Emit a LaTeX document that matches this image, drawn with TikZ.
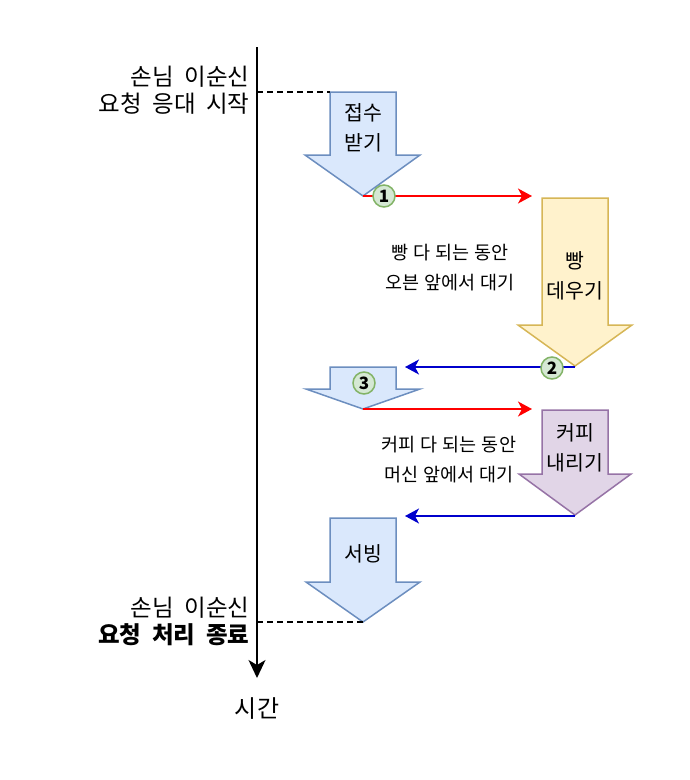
\documentclass[tikz,border=0pt]{standalone}
\usepackage{fontspec}
\setmainfont{Noto Sans CJK KR}[WordSpace=2]
\newfontfamily\tightkr{Noto Sans CJK KR}[WordSpace=1.2]
\usepackage{xcolor}
\usepackage{tikz}
\usetikzlibrary{arrows.meta, positioning, calc}
\definecolor{dioblue}{HTML}{DAE8FC}
\definecolor{dioblueline}{HTML}{6C8EBF}
\definecolor{dioyellow}{HTML}{FFF2CC}
\definecolor{dioyellowline}{HTML}{D6B656}
\definecolor{diopurple}{HTML}{E1D5E7}
\definecolor{diopurpleline}{HTML}{9673A6}
\definecolor{diogreen}{HTML}{D5E8D4}
\definecolor{diogreenline}{HTML}{82B366}
\definecolor{diored}{HTML}{FF0000}
\definecolor{dionavy}{HTML}{0000CC}

\tikzset{
  blockarrow/.style={line width=1.5pt, line join=miter},
  steplabel/.style={align=center, font=\tightkr\fontsize{20.5}{30}\selectfont},
  waitlabel/.style={align=center, font=\tightkr\fontsize{18.5}{30}\selectfont},
  sidelabel/.style={align=right, anchor=east, font=\fontsize{23.5}{27}\selectfont},
  numdot/.style={circle, draw=diogreenline, fill=diogreen, line width=1.5pt, inner sep=0pt,
    minimum size=22pt, font=\fontsize{17}{17}\selectfont\bfseries},
  handoff/.style={line width=1.5pt, -{Stealth[length=14pt,width=15pt,inset=4pt]}},
}

\begin{document}
\begin{tikzpicture}[x=1pt, y=-1pt]
\useasboundingbox (0,0) rectangle (689,780);
% Timeline
\coordinate (tltop) at (257,47);
\coordinate (tlend) at (257,678);
\draw[line width=1.5pt, -{Stealth[length=18pt,width=17pt,inset=5pt]}] (tltop) -- (tlend);
\node[font=\fontsize{24}{24}\selectfont] (timelabel) at (257,709) {시간};
% Start and end marks
\coordinate (startmark) at (257,92);
\coordinate (endmark) at (257,622);
\node[sidelabel] (startlabel) at (253,90) {손님 이순신\\요청 응대 시작};
\node[sidelabel] (endlabel) at (253,621) {손님 이순신\\\textbf{요청 처리 종료}};
% Block arrows
\draw[blockarrow, draw=dioblueline, fill=dioblue]
  (330,92) -- (396,92) -- (396,155) -- (420,155) -- (363,196) -- (305,155) -- (330,155) -- cycle;
\coordinate (recvtip) at (363,196);
\coordinate (recvtop) at (330,92);
\node[steplabel] (recv) at (363,128) {접수\\받기};

\draw[blockarrow, draw=dioyellowline, fill=dioyellow]
  (542,198) -- (608,198) -- (608,325) -- (632,325) -- (575,366) -- (518,325) -- (542,325) -- cycle;
\coordinate (breadtip) at (575,367);
\node[steplabel] (bread) at (575,276) {빵\\데우기};

\draw[blockarrow, draw=dioblueline, fill=dioblue]
  (330,367) -- (396,367) -- (396,389) -- (420,389) -- (363,409) -- (306,389) -- (330,389) -- cycle;
\coordinate (picktip) at (363,409);

\draw[blockarrow, draw=diopurpleline, fill=diopurple]
  (542,410) -- (608,410) -- (608,474) -- (631,474) -- (575,515) -- (519,474) -- (542,474) -- cycle;
\coordinate (coffeetip) at (575,516);
\node[steplabel] (coffee) at (575,448) {커피\\내리기};

\draw[blockarrow, draw=dioblueline, fill=dioblue]
  (330,518) -- (396,518) -- (396,582) -- (420,582) -- (363,622) -- (306,582) -- (330,582) -- cycle;
\coordinate (servetip) at (363,622);
\node[steplabel] (serve) at (363,554) {서빙};
% Dashed marks
\draw[line width=1.5pt, dash pattern=on 6pt off 4pt] (startmark) -- (recvtop);
\draw[line width=1.5pt, dash pattern=on 6pt off 4pt] (endmark) -- (servetip);
% Hand-offs
\coordinate (breadin) at (532,196);
\coordinate (pickin) at (405,367);
\coordinate (coffeein) at (532,409);
\coordinate (servein) at (405,516);
\draw[handoff, diored] (recvtip) -- (breadin);
\draw[handoff, dionavy] (breadtip) -- (pickin);
\draw[handoff, diored] (picktip) -- (coffeein);
\draw[handoff, dionavy] (coffeetip) -- (servein);
\node[waitlabel] (breadwait) at (450,268) {빵 다 되는 동안\\오븐 앞에서 대기};
\node[waitlabel] (coffeewait) at (449,460) {커피 다 되는 동안\\머신 앞에서 대기};
% Numbers
\node[numdot] (one) at (384,196) {1};
\node[numdot] (two) at (552,368) {2};
\node[numdot] (three) at (364,383) {3};
\end{tikzpicture}
\end{document}
